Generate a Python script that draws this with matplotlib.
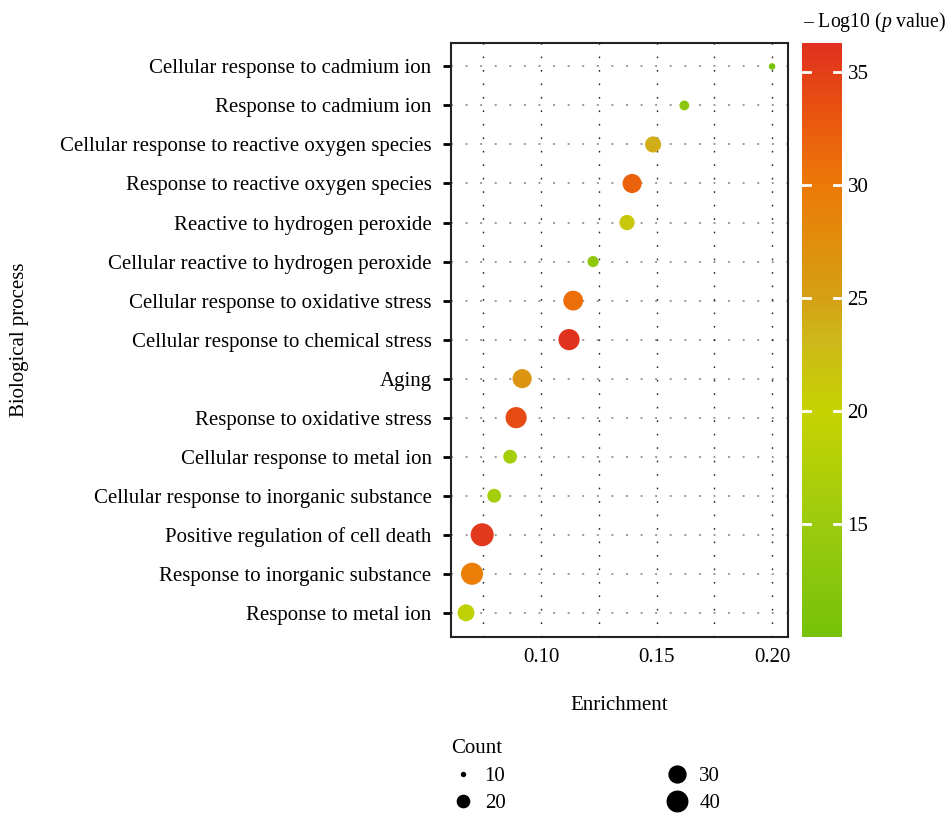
import numpy as np
import matplotlib
matplotlib.use("Agg")
import matplotlib.pyplot as plt
from matplotlib.colors import LinearSegmentedColormap, Normalize
from matplotlib.lines import Line2D

plt.rcParams['font.family'] = ['Liberation Serif', 'DejaVu Serif']
plt.rcParams['mathtext.fontset'] = 'custom'
plt.rcParams['mathtext.it'] = 'Liberation Serif:italic'
plt.rcParams['mathtext.rm'] = 'Liberation Serif'

terms = [
    "Cellular response to cadmium ion",
    "Response to cadmium ion",
    "Cellular response to reactive oxygen species",
    "Response to reactive oxygen species",
    "Reactive to hydrogen peroxide",
    "Cellular reactive to hydrogen peroxide",
    "Cellular response to oxidative stress",
    "Cellular response to chemical stress",
    "Aging",
    "Response to oxidative stress",
    "Cellular response to metal ion",
    "Cellular response to inorganic substance",
    "Positive regulation of cell death",
    "Response to inorganic substance",
    "Response to metal ion",
]
enrichment = [0.200, 0.162, 0.1485, 0.1394, 0.1372, 0.1225, 0.1139, 0.1121,
              0.0918, 0.0892, 0.0866, 0.0797, 0.0745, 0.0701, 0.0675]
neglog10p = [10.5, 13.0, 24.0, 32.0, 21.5, 13.5, 31.0, 36.0,
             26.5, 34.0, 16.0, 16.0, 35.5, 29.5, 19.0]
counts = [12, 16, 28, 36, 26, 18, 38, 42, 36, 42, 23, 23, 48, 45, 30]

legend_counts = [10, 20, 30, 40]
xticks = [0.10, 0.15, 0.20]
cbar_ticks = [15, 20, 25, 30, 35]

FS = 15

def diam_pt(c):
    c = np.asarray(c, dtype=float)
    d_px = np.sqrt(np.clip(13.5 * c - 119, 4, None))
    return d_px * 0.72

cmap = LinearSegmentedColormap.from_list("gr", [
    (0.0, "#76C10A"),
    (0.19, "#9CCB0E"),
    (0.38, "#C6D300"),
    (0.50, "#CDB81A"),
    (0.57, "#D5A015"),
    (0.76, "#EC7A06"),
    (0.88, "#E9550F"),
    (1.0, "#E0301E"),
])
norm = Normalize(vmin=10.0, vmax=36.3)

fig = plt.figure(figsize=(9.51, 8.16), dpi=100)
ax = fig.add_axes([451/951, 1-637/816, (788-451)/951, (637-43)/816])

n = len(terms)
ypos = np.arange(n)[::-1]

ax.set_xlim(0.061, 0.2069)
ax.set_ylim(-0.62, n - 1 + 0.6)

# grid
for y in ypos:
    ax.axhline(y, color="#9a9a9a", lw=1.4, ls=(0, (1.0, 6.5)), zorder=0)
for x in [0.075, 0.10, 0.125, 0.15, 0.175, 0.20]:
    ax.axvline(x, color="#222222", lw=1.0, ls=(0, (1.2, 8.5)), zorder=0)

ax.scatter(enrichment, ypos, s=diam_pt(counts)**2, c=neglog10p, cmap=cmap,
           norm=norm, edgecolors="none", zorder=3)

ax.set_yticks(ypos)
ax.set_yticklabels(terms, fontsize=FS)
ax.set_xticks(xticks)
ax.set_xticklabels([f"{t:.2f}" for t in xticks], fontsize=FS)
ax.tick_params(axis="y", length=6, width=2, color="black", pad=8)
ax.tick_params(axis="x", length=0, pad=8)
for sp in ax.spines.values():
    sp.set_linewidth(1.5)
    sp.set_color("#222222")

fig.text(619.5/951, 1-705/816, "Enrichment", ha="center", va="center", fontsize=FS)
fig.text(20/951, 1-340/816, "Biological process", ha="center", va="center",
         rotation=90, fontsize=FS)

# colorbar
cax = fig.add_axes([802/951, 1-637/816, 40/951, (637-43)/816])
sm = matplotlib.cm.ScalarMappable(norm=norm, cmap=cmap)
cb = fig.colorbar(sm, cax=cax, ticks=cbar_ticks)
cb.outline.set_visible(False)
cax.tick_params(length=0, labelsize=FS, pad=4)
for t in cbar_ticks:
    cax.plot([0, 0.2], [t, t], color="white", lw=2, transform=cax.get_yaxis_transform())
    cax.plot([0.8, 1.0], [t, t], color="white", lw=2, transform=cax.get_yaxis_transform())
fig.text(946/951, 1-22/816, r"– Log10 ($\mathit{p}$ value)", ha="right", va="center",
         fontsize=14.2)

# size legend
handles = [Line2D([], [], ls="none", marker="o", color="black",
                  markersize=float(diam_pt(c))) for c in legend_counts]
leg = fig.legend(handles, [str(c) for c in legend_counts], title="Count",
                 loc="upper left", bbox_to_anchor=(443/951, 1-731/816),
                 ncol=2, frameon=False, fontsize=FS, title_fontsize=FS,
                 columnspacing=7.7, handletextpad=0.5, labelspacing=0.38,
                 alignment="left", borderaxespad=0, handlelength=1.1)

fig.savefig("out.png", dpi=100)
